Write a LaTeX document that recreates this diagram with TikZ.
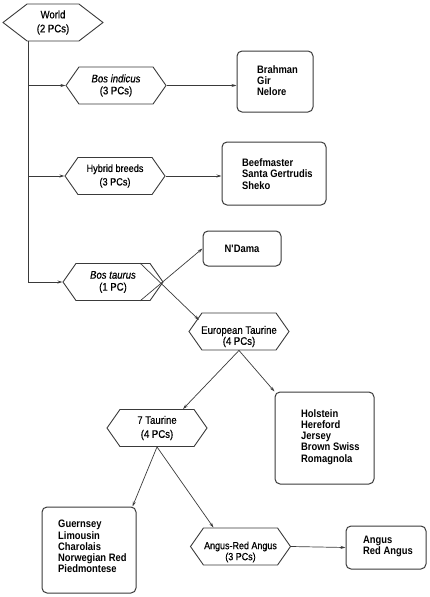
\documentclass[tikz,border=0pt]{standalone}
\usepackage{fontspec}
\setmainfont{Liberation Sans}[FakeStretch=0.87]
\newfontfamily\hexfont{Liberation Sans}[FakeStretch=0.87, FakeBold=0.5]
\usetikzlibrary{shapes.symbols,arrows.meta,calc}
\definecolor{ln}{HTML}{3A3A3A}
\begin{document}
\begin{tikzpicture}[x=1pt,y=-1pt,
  hex/.style={signal, signal to=west and east, signal pointer angle=110, draw=ln, line width=0.9pt,
    minimum width=100pt, minimum height=37pt, inner sep=0pt, align=center,
    font=\hexfont\fontsize{11}{12.5}\selectfont},
  hextext/.style={align=center, inner sep=0pt, font=\hexfont\fontsize{11}{11}\selectfont},
  box/.style={rectangle, rounded corners=5pt, draw=ln, line width=1pt},
  list/.style={align=left, font=\fontsize{10.8}{11.2}\selectfont\bfseries, inner sep=0pt, anchor=west},
  arr/.style={draw=ln, line width=0.7pt, -{Stealth[length=5pt,width=3pt]}},
]
\useasboundingbox (0,0) rectangle (430,597);
% hexagons
\node[hex, signal pointer angle=75, font=\hexfont\fontsize{11}{14}\selectfont] (world) at (53,22.5) {World\\(2 PCs)};
\node[hex, font=\hexfont\fontsize{11}{12}\selectfont] (bi) at (116,85.5) {\textit{Bos indicus}\\(3 PCs)};
\node[hex, font=\hexfont\fontsize{10.5}{13.5}\selectfont] (hy) at (115,176) {Hybrid breeds\\(3 PCs)};
\node[hex, font=\hexfont\fontsize{11}{12}\selectfont] (bt) at (113,282) {\textit{Bos taurus}\\(1 PC)};
\node[hex] (et) at (239,331.5) {};
\node[hextext] (etT) at (239,336.5) {European Taurine\\(4 PCs)};
\node[hex, font=\hexfont\fontsize{11}{14}\selectfont] (t7) at (157,428) {7 Taurine\\(4 PCs)};
\node[hex] (ar) at (240.5,546.5) {};
\node[hextext, font=\hexfont\fontsize{10.3}{11}\selectfont] (arT) at (240.5,552) {Angus-Red Angus\\(3 PCs)};
% boxes
\node[box, minimum width=76pt, minimum height=61pt] (brahman) at (275,81.5) {};
\node[list] (brahmanT) at (257,80.5) {Brahman\\Gir\\Nelore};
\node[box, minimum width=104pt, minimum height=63pt] (beef) at (274,173.5) {};
\node[list] (beefT) at (242,174) {Beefmaster\\Santa Gertrudis\\Sheko};
\node[box, minimum width=78pt, minimum height=35pt, font=\fontsize{10.8}{11}\selectfont\bfseries] (ndama) at (242,248.5) {N\textquotesingle Dama};
\node[box, minimum width=99pt, minimum height=92pt] (holstein) at (324.5,438) {};
\node[list] (holsteinT) at (301,437) {Holstein\\Hereford\\Jersey\\Brown Swiss\\Romagnola};
\node[box, minimum width=94pt, minimum height=86pt] (gu) at (89,550) {};
\node[list] (guT) at (58,546.5) {Guernsey\\Limousin\\Charolais\\Norwegian Red\\Piedmontese};
\node[box, minimum width=80pt, minimum height=43pt] (angus) at (386,547.5) {};
\node[list] (angusT) at (363,546.5) {Angus\\Red Angus};
% connectors
\coordinate (tb) at (28,282);
\draw[arr] (world.south -| tb) |- (bt.west);
\draw[arr] (bi.west -| tb) -- (bi.west);
\draw[arr] (hy.west -| tb) -- (hy.west);
\draw[arr] (bi.east) -- (bi.east -| brahman.west);
\draw[arr] (hy.east) -- (hy.east -| beef.west);
\draw[arr] ($(bt.south)+(27,0)$) -- (ndama.west);
\draw[arr] ($(bt.north)+(27,0)$) -- ($(et.center)+(-40,-11.5)$);
\draw[arr] (et.south) -- ($(t7.north)+(26,0)$);
\draw[arr] (et.south) -- (holstein.north west);
\draw[arr] (t7.south) -- ($(gu.north east)+(-4,0)$);
\draw[arr] (t7.south) -- ($(ar.north)+(-27,0)$);
\draw[arr] (ar.east) -- (angus.west);
\end{tikzpicture}
\end{document}
